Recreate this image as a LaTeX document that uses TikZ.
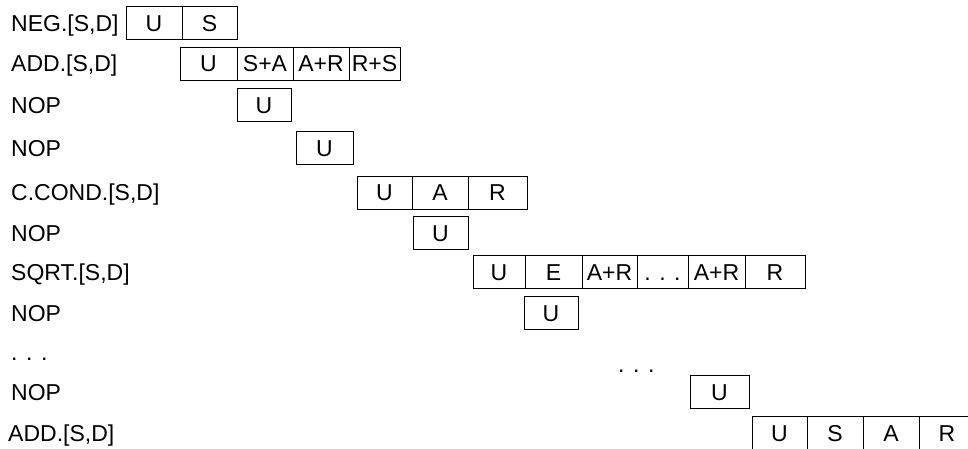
\documentclass[tikz,border=0pt]{standalone}
\usepackage{fontspec}
\setmainfont{Liberation Sans}
\usetikzlibrary{positioning}

\begin{document}
\begin{tikzpicture}[
  x=1pt, y=-1pt,
  every node/.style={font=\fontsize{23}{27}\selectfont},
  cell/.style={
    draw, rectangle, line width=0.8pt,
    minimum width=56pt, minimum height=33pt,
    inner sep=0pt, outer sep=0pt,
    text height=16.5pt, text depth=0pt
  },
  oplabel/.style={anchor=base west, inner sep=0pt}
]
\useasboundingbox (0,0) rectangle (968,449);

% instruction names
\node[oplabel] (l1)  at (11,31.3)  {NEG.[S,D]};
\node[oplabel] (l2)  at (11,71.8)  {ADD.[S,D]};
\node[oplabel] (l3)  at (11,113.3) {NOP};
\node[oplabel] (l4)  at (11,156.3) {NOP};
\node[oplabel] (l5)  at (11,200.8) {C.COND.[S,D]};
\node[oplabel] (l6)  at (11,241.3) {NOP};
\node[oplabel] (l7)  at (11,280.3) {SQRT.[S,D]};
\node[oplabel] (l8)  at (11,321.3) {NOP};
\node[oplabel] (l9)  at (11,360)   {. . .};
\node[oplabel] (l10) at (11,400.3) {NOP};
\node[oplabel] (l11) at (8,441.3)  {ADD.[S,D]};
\node[oplabel] (gap) at (618,372)  {. . .};

% NEG
\node[cell, anchor=west] (neg1) at (126,23) {U};
\node[cell, minimum width=55pt, right=0pt of neg1] (neg2) {S};

% ADD
\node[cell, anchor=west, minimum width=57pt] (add1) at (180,63.5) {U};
\node[cell, right=0pt of add1] (add2) {S+A};
\node[cell, right=0pt of add2] (add3) {A+R};
\node[cell, minimum width=51pt, right=0pt of add3] (add4) {R+S};

% NOP
\node[cell, anchor=west, minimum width=54pt] (nop1) at (237,105) {U};
\node[cell, anchor=west, minimum width=57pt] (nop2) at (296,148) {U};

% C.COND
\node[cell, anchor=west, minimum width=55pt] (cc1) at (357,192.5) {U};
\node[cell, right=0pt of cc1] (cc2) {A};
\node[cell, minimum width=59pt, right=0pt of cc2] (cc3) {R};

% NOP
\node[cell, anchor=west, minimum width=55pt] (nop3) at (413,233) {U};

% SQRT
\node[cell, anchor=west, minimum width=52pt] (sq1) at (473,272) {U};
\node[cell, minimum width=57pt, right=0pt of sq1] (sq2) {E};
\node[cell, minimum width=55pt, right=0pt of sq2] (sq3) {A+R};
\node[cell, minimum width=51pt, right=0pt of sq3] (sq4) {. . .};
\node[cell, minimum width=57pt, right=0pt of sq4] (sq5) {A+R};
\node[cell, minimum width=60pt, right=0pt of sq5] (sq6) {R};

% NOP
\node[cell, anchor=west, minimum width=54pt] (nop4) at (524,313) {U};
\node[cell, anchor=west, minimum width=59pt] (nop5) at (690,392) {U};

% ADD
\node[cell, anchor=west, minimum width=55pt] (add5) at (752,433) {U};
\node[cell, right=0pt of add5] (add6) {S};
\node[cell, right=0pt of add6] (add7) {A};
\node[cell, right=0pt of add7] (add8) {R};

\end{tikzpicture}
\end{document}
